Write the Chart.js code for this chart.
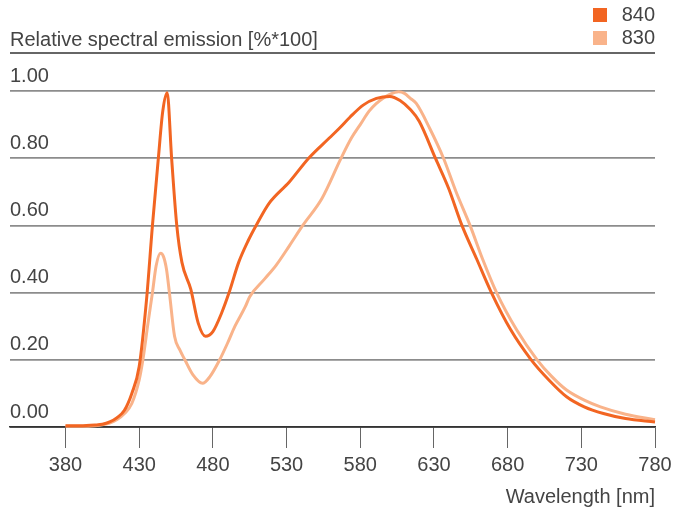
<!DOCTYPE html>
<html>
<head>
<meta charset="utf-8">
<script src="https://cdn.jsdelivr.net/npm/chart.js"></script>
<style>
  html, body { margin: 0; padding: 0; background: #fff; }
  #wrap { width: 685px; height: 511px; }
</style>
</head>
<body>
<div id="wrap"><canvas id="myChart" width="685" height="511"></canvas></div>
<script>
// spectrum 840
const wl840 = [380, 390, 400, 405, 410, 415, 420, 425, 430, 435, 439, 443, 446, 449, 452, 455.5, 459, 465, 470, 475, 480, 486, 491, 497.5, 504, 510, 518, 532, 545, 559, 566, 573, 582, 591, 600, 607, 614, 620, 631, 640, 649, 659, 669, 682, 696, 708, 720, 732, 745, 760, 780]
const val840 = [0.004, 0.004, 0.006, 0.008, 0.015, 0.028, 0.05, 0.10, 0.18, 0.38, 0.60, 0.80, 0.94, 0.995, 0.80, 0.60, 0.49, 0.41, 0.31, 0.27, 0.284, 0.34, 0.40, 0.49, 0.555, 0.605, 0.665, 0.73, 0.80, 0.86, 0.89, 0.922, 0.958, 0.978, 0.984, 0.972, 0.945, 0.91, 0.80, 0.71, 0.60, 0.50, 0.40, 0.29, 0.20, 0.14, 0.09, 0.06, 0.04, 0.025, 0.015]

// spectrum 830
const wl830 = [380, 390, 400, 410, 415, 420, 425, 430, 432.5, 436, 439, 441.5, 444.5, 446.5, 448.5, 450.5, 454, 457.5, 461, 466.5, 473, 478, 484.6, 490, 495, 502, 505, 515, 523, 532, 541, 554, 567, 574, 580, 586, 591, 596, 600, 606, 610, 614, 618, 627, 636.5, 645, 654.5, 663, 672.5, 686, 700, 710, 720, 732, 743, 760, 780]
const val830 = [0.002, 0.002, 0.004, 0.012, 0.022, 0.04, 0.07, 0.14, 0.20, 0.31, 0.40, 0.48, 0.517, 0.507, 0.47, 0.40, 0.27, 0.23, 0.20, 0.155, 0.13, 0.15, 0.20, 0.25, 0.30, 0.358, 0.388, 0.44, 0.482, 0.54, 0.60, 0.68, 0.80, 0.86, 0.90, 0.94, 0.963, 0.98, 0.99, 0.998, 0.993, 0.978, 0.963, 0.89, 0.80, 0.70, 0.60, 0.50, 0.40, 0.29, 0.20, 0.15, 0.11, 0.08, 0.06, 0.038, 0.022]

const seriesNames = ['840', '830']
const xTicks = [380, 430, 480, 530, 580, 630, 680, 730, 780]
const yTicks = [0, 0.2, 0.4, 0.6, 0.8, 1.0]

const titleText = 'Relative spectral emission [%*100]'
const xTitleText = 'Wavelength [nm]'

const FONT = "'Liberation Sans', Arial, sans-serif"
const FSIZE = 20
const TEXT = '#444'

const toPoints = (xs, ys) => xs.map((x, i) => ({ x, y: ys[i] }))

// header: title, rule under it, and the square legend on the right
const headerPlugin = {
  id: 'header',
  afterDraw: (chart) => {
    const { ctx, chartArea } = chart
    ctx.save()
    ctx.font = FSIZE + 'px ' + FONT
    ctx.fillStyle = TEXT
    ctx.textBaseline = 'middle'
    ctx.textAlign = 'left'
    ctx.fillText(titleText, chartArea.left, 40)

    ctx.strokeStyle = '#333'
    ctx.lineWidth = 1.5
    ctx.beginPath()
    ctx.moveTo(chartArea.left, 53)
    ctx.lineTo(chartArea.right, 53)
    ctx.stroke()

    chart.data.datasets.forEach((ds, i) => {
      const cy = 15 + i * 23
      ctx.fillStyle = ds.borderColor
      ctx.fillRect(593, cy - 7, 14, 14)
      ctx.fillStyle = TEXT
      ctx.textAlign = 'right'
      ctx.fillText(ds.label, chartArea.right, cy)
    })
    ctx.restore()
  }
}

const xMax = 780
const xFirst = 380
// chart area starts at 10px, the 380 tick sits at about 65.5px, 780 at 655px
const xMin = xFirst - (65.5 - 10) / (655 - 65.5) * (xMax - xFirst)

const config = {
  type: 'line',
  data: {
    datasets: [
      {
        label: seriesNames[0],
        data: toPoints(wl840, val840),
        borderColor: '#f26522',
        borderWidth: 3,
        pointRadius: 0,
        cubicInterpolationMode: 'monotone',
        clip: 6
      },
      {
        label: seriesNames[1],
        data: toPoints(wl830, val830),
        borderColor: '#f9b38a',
        borderWidth: 3,
        pointRadius: 0,
        cubicInterpolationMode: 'monotone',
        clip: 6
      }
    ]
  },
  options: {
    responsive: false,
    animation: false,
    events: [],
    layout: { padding: { left: 10, right: 30, top: 91, bottom: 0 } },
    plugins: {
      legend: { display: false },
      title: { display: false },
      tooltip: { enabled: false }
    },
    scales: {
      x: {
        type: 'linear',
        min: xMin,
        max: xMax,
        afterBuildTicks: (scale) => { scale.ticks = xTicks.map(v => ({ value: v })) },
        grid: {
          drawOnChartArea: false,
          drawTicks: true,
          tickLength: 21,
          tickColor: '#666',
          lineWidth: 1
        },
        border: { display: true, color: '#333', width: 1.5 },
        ticks: {
          color: TEXT,
          font: { family: FONT, size: FSIZE },
          padding: 5,
          maxRotation: 0,
          autoSkip: false
        },
        title: {
          display: true,
          text: xTitleText,
          align: 'end',
          color: TEXT,
          font: { family: FONT, size: FSIZE },
          padding: { top: 3, bottom: 2 }
        }
      },
      y: {
        min: 0,
        max: 1,
        afterBuildTicks: (scale) => { scale.ticks = yTicks.map(v => ({ value: v })) },
        grid: {
          drawTicks: false,
          color: (c) => (c.tick && c.tick.value === 0 ? '#333' : '#8c8c8c'),
          lineWidth: 1.8
        },
        border: { display: false },
        ticks: {
          mirror: true,
          padding: 0,
          labelOffset: -15,
          color: TEXT,
          font: { family: FONT, size: FSIZE },
          callback: (v) => Number(v).toFixed(2)
        }
      }
    }
  },
  plugins: [headerPlugin]
}

const ctx = document.getElementById('myChart').getContext('2d')
const myChart = new Chart(ctx, config)
</script>
</body>
</html>
